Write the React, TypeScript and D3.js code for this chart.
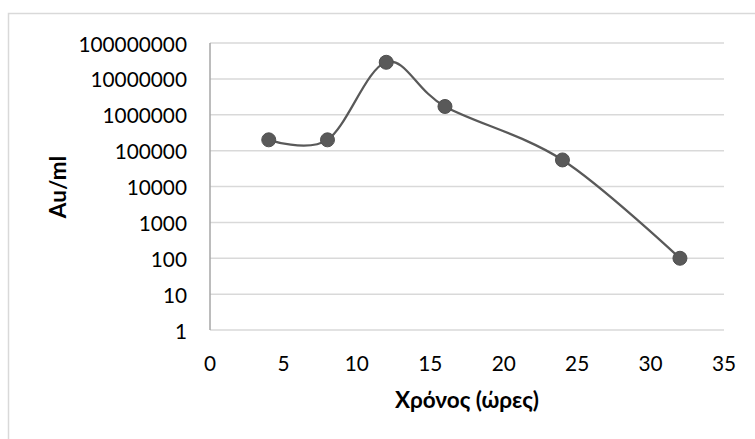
import React from "react";
import * as d3 from "d3";

// Sampling times (hours) and measured activity (Au/ml)
const hours = [4, 8, 12, 16, 24, 32];
const auPerMl = [200000, 200000, 29000000, 1700000, 55000, 100];

const xTickValues = [0, 5, 10, 15, 20, 25, 30, 35];
const yTickValues = [1, 10, 100, 1000, 10000, 100000, 1000000, 10000000, 100000000];

const xTitle = "Χρόνος (ώρες)";
const yTitle = "Au/ml";

const W = 755;
const H = 439;
const FONT = "Lato, 'Open Sans', 'Noto Sans', sans-serif";

export default function App() {
  const x = d3.scaleLinear().domain([0, 35]).range([210, 724]);
  const y = d3.scaleLog().domain([1, 100000000]).range([330, 43]);

  const pts: [number, number][] = hours.map((h, i) => [x(h), y(auPerMl[i])]);
  const line = d3.line().curve(d3.curveCatmullRom.alpha(0));
  const path = line(pts) || "";

  return (
    <svg
      width={W}
      height={H}
      style={{ position: "absolute", left: 0, top: 0, background: "#fff" }}
      fontFamily={FONT}
    >
      <rect x={8.5} y={13.5} width={800} height={500} fill="#fff" stroke="#d9d9d9" strokeWidth={1.5} />

      {/* horizontal gridlines */}
      {yTickValues.map((t) => (
        <line
          key={"g" + t}
          x1={x(0)}
          x2={x(35)}
          y1={y(t)}
          y2={y(t)}
          stroke="#d9d9d9"
          strokeWidth={1.5}
        />
      ))}

      {/* vertical axis line */}
      <line x1={x(0)} x2={x(0)} y1={y(100000000)} y2={y(1)} stroke="#a6a6a6" strokeWidth={1.5} />

      {/* y tick labels */}
      {yTickValues.map((t) => (
        <text
          key={"y" + t}
          x={187}
          y={y(t)}
          textAnchor="end"
          dominantBaseline="central"
          fontSize={20.8}
          fill="#000"
        >
          {String(t)}
        </text>
      ))}

      {/* x tick labels */}
      {xTickValues.map((t) => (
        <text
          key={"x" + t}
          x={x(t)}
          y={362}
          textAnchor="middle"
          dominantBaseline="central"
          fontSize={20.8}
          fill="#000"
        >
          {t}
        </text>
      ))}

      {/* smoothed series line */}
      <path d={path} fill="none" stroke="#595959" strokeWidth={2.25} />

      {/* markers */}
      {pts.map(([px, py], i) => (
        <circle key={"m" + i} cx={px} cy={py} r={7} fill="#595959" stroke="#505050" strokeWidth={1} />
      ))}

      {/* axis titles */}
      <text
        x={467}
        y={399}
        textAnchor="middle"
        dominantBaseline="central"
        fontSize={22.5}
        fontWeight="bold"
        fill="#000"
      >
        {xTitle}
      </text>
      <text
        transform="translate(57,187) rotate(-90)"
        textAnchor="middle"
        dominantBaseline="central"
        fontSize={22.5}
        fontWeight="bold"
        fill="#000"
      >
        {yTitle}
      </text>
    </svg>
  );
}
